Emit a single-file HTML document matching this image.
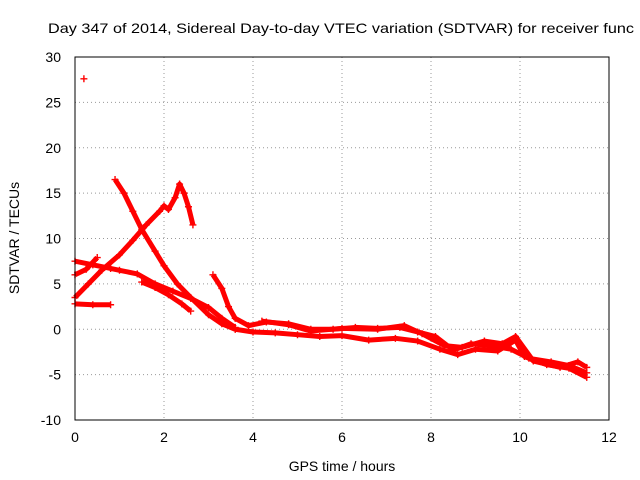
<!DOCTYPE html>
<html><head><meta charset="utf-8"><style>
body{margin:0;background:#fff;}
svg{display:block;font-family:"Liberation Sans",sans-serif;}
</style></head><body>
<svg id="chart" width="640" height="480">
<rect width="640" height="480" fill="#fff"/>
<text x="48" y="33" font-size="14" textLength="586" lengthAdjust="spacingAndGlyphs">Day 347 of 2014, Sidereal Day-to-day VTEC variation (SDTVAR) for receiver func</text>
<g id="grid"></g>
<g id="series"></g>
<rect x="75" y="57" width="534" height="363" fill="none" stroke="#000"/>
<g id="ticks" font-size="14"></g>
<text x="342" y="471" font-size="14" text-anchor="middle">GPS time / hours</text>
<text transform="translate(19,238) rotate(-90)" font-size="14" text-anchor="middle">SDTVAR / TECUs</text>
</svg>
<script>
const xTicks=[0,2,4,6,8,10,12];
const yTicks=[-10,-5,0,5,10,15,20,25,30];
const isolated=[[0.2,27.6]];
const traceA=[[0,7.5],[0.4,7.1],[0.8,6.7],[1.0,6.5],[1.4,6.1],[1.8,5.0],[2.2,4.2],[2.6,3.4],[3.0,2.4],[3.3,1.2],[3.6,0.2]];
const traceB=[[0,3.5],[0.3,5],[0.6,6.5],[1.0,8.2],[1.3,9.8],[1.6,11.5],[1.9,13.0],[2.0,13.6],[2.1,13.2],[2.25,14.5],[2.35,16.0],[2.45,15],[2.55,13.5],[2.65,11.5]];
const traceC=[[0.9,16.5],[1.1,15],[1.3,13],[1.5,11],[1.8,8.6],[2.0,7],[2.3,5],[2.6,3.5],[3.0,1.6],[3.3,0.6],[3.6,0]];
const traceD=[[0,6],[0.25,6.6],[0.5,7.9]];
const traceE=[[0,2.8],[0.4,2.7],[0.8,2.7]];
const traceF=[[1.5,5.2],[1.8,4.6],[2.1,3.8],[2.4,2.8],[2.6,2.0]];
const traceG=[[3.1,6],[3.3,4.5],[3.45,2.5],[3.6,1.2],[3.9,0.4],[4.3,0.8],[4.8,0.6],[5.3,0],[5.8,0],[6.3,0.2],[6.8,0.1],[7.3,0.2],[7.7,-0.3],[8.1,-0.8],[8.5,-2.3],[8.9,-1.6],[9.3,-1.8],[9.8,-2.2],[10.2,-3.2],[10.7,-3.6],[11.1,-4.0],[11.5,-4.8]];
const traceH=[[3.6,0],[4.0,-0.3],[4.5,-0.4],[5.0,-0.6],[5.5,-0.8],[6.0,-0.7],[6.6,-1.2],[7.2,-1.0],[7.7,-1.3],[8.2,-2.2],[8.6,-2.8],[9.0,-2.2],[9.5,-2.4],[9.9,-1.2],[10.1,-3.0],[10.6,-3.9],[11.1,-4.3],[11.5,-5.3]];
const traceI=[[4.2,0.9],[4.8,0.5],[5.3,-0.2],[6.0,0.1],[6.8,0],[7.4,0.4],[7.8,-0.5],[8.3,-1.8],[8.7,-2.0],[9.2,-1.3],[9.6,-1.6],[9.9,-0.8],[10.3,-3.5],[10.9,-4.2],[11.3,-3.6],[11.5,-4.2]];
const allSeries=[isolated,traceA,traceB,traceC,traceD,traceE,traceF,traceG,traceH,traceI];
const NS='http://www.w3.org/2000/svg';
function xs(v){return 75+v*534/12;}
function ys(v){return 57+(30-v)*363/40;}
const grid=document.getElementById('grid'),ticks=document.getElementById('ticks'),ser=document.getElementById('series');
xTicks.forEach(t=>{
 const l=document.createElementNS(NS,'line');
 
 
 l.setAttribute('x1',xs(t));l.setAttribute('x2',xs(t));l.setAttribute('y1',57);l.setAttribute('y2',420);
 l.setAttribute('stroke','#999');l.setAttribute('stroke-dasharray','1,3');grid.appendChild(l);
 const tx=document.createElementNS(NS,'text');
 
 
 tx.setAttribute('x',xs(t));tx.setAttribute('y',442);tx.setAttribute('text-anchor','middle');tx.textContent=t;ticks.appendChild(tx);
});
yTicks.forEach(t=>{
 const l=document.createElementNS(NS,'line');
 
 
 l.setAttribute('x1',75);l.setAttribute('x2',609);l.setAttribute('y1',ys(t));l.setAttribute('y2',ys(t));
 l.setAttribute('stroke','#999');l.setAttribute('stroke-dasharray','1,3');grid.appendChild(l);
 const tx=document.createElementNS(NS,'text');
 
 
 tx.setAttribute('x',61);tx.setAttribute('y',ys(t)+5);tx.setAttribute('text-anchor','end');tx.textContent=t;ticks.appendChild(tx);
});
allSeries.forEach(s=>{
 if(s.length>1){
  const p=document.createElementNS(NS,'polyline');
  
  
  p.setAttribute('points',s.map(d=>xs(d[0])+','+ys(d[1])).join(' '));
  p.setAttribute('fill','none');p.setAttribute('stroke','#f00');p.setAttribute('stroke-width','5');p.setAttribute('stroke-linejoin','round');
  ser.appendChild(p);
 }
 s.forEach(d=>{
  const m=document.createElementNS(NS,'path');
  
  
  const x=xs(d[0]),y=ys(d[1]);
  m.setAttribute('d',`M${x-3.5},${y}H${x+3.5}M${x},${y-3.5}V${y+3.5}`);
  m.setAttribute('stroke','#f00');m.setAttribute('stroke-width','1.4');ser.appendChild(m);
 });
});
</script>
</body></html>
